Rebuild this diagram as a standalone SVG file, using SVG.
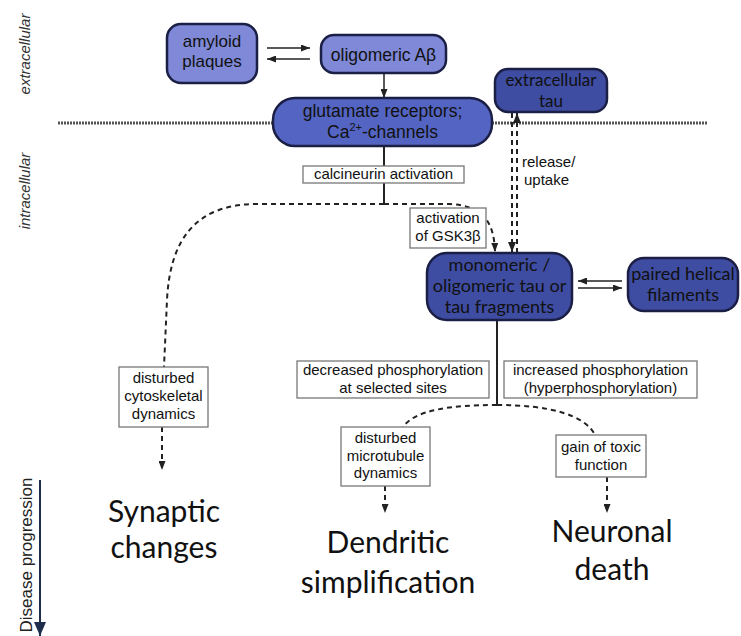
<svg xmlns="http://www.w3.org/2000/svg" width="741" height="636" viewBox="0 0 741 636">
<defs>
<style>
.bl{stroke:#1b1f45;stroke-width:2.5}
.b1{fill:#7f89d8}
.b2{fill:#5464c2}
.b3{fill:#3e4ca2}
.t{font-family:"Liberation Sans",Arial,sans-serif;font-size:15px;fill:#111;text-anchor:middle}
.tm{font-family:"Liberation Sans",Arial,sans-serif;font-size:17.5px;fill:#111;text-anchor:middle}
.tl{font-family:Lato,"Open Sans",sans-serif;font-size:17px;fill:#111;text-anchor:middle}
.big{font-family:Lato,"Open Sans",sans-serif;font-size:30px;fill:#111;text-anchor:middle}
.side{font-family:"Liberation Sans",Arial,sans-serif;font-size:15px;font-style:italic;fill:#333;text-anchor:middle}
.wb{fill:#fff;stroke:#777;stroke-width:1.3}
.sol{stroke:#222;stroke-width:2;fill:none}
.thin{stroke:#222;stroke-width:1.5;fill:none}
.dash{stroke:#222;stroke-width:2;fill:none;stroke-dasharray:5 4}
.mem{stroke:#555;stroke-width:3;stroke-dasharray:2 1;fill:none}
</style>
<marker id="ah" markerUnits="userSpaceOnUse" markerWidth="10" markerHeight="8" refX="10" refY="4" orient="auto">
<path d="M0,0 L10,4 L0,8 z" fill="#222"/>
</marker>
<marker id="ahs" markerUnits="userSpaceOnUse" markerWidth="9" markerHeight="7" refX="9" refY="3.5" orient="auto">
<path d="M0,0 L9,3.5 L0,7 z" fill="#222"/>
</marker>
<marker id="ahb" markerUnits="userSpaceOnUse" markerWidth="14" markerHeight="12" refX="14" refY="6" orient="auto">
<path d="M0,0 L14,6 L0,12 z" fill="#1f2d4d"/>
</marker>
</defs>
<rect width="741" height="636" fill="#fff"/>

<g id="membrane">
<line class="mem" x1="58" y1="123" x2="273" y2="123"/>
<line class="mem" x1="492" y1="123" x2="708" y2="123"/>
</g>

<g id="labels">
<text class="side" transform="translate(30,54) rotate(-90)">extracellular</text>
<text class="side" transform="translate(30,191) rotate(-90)">intracellular</text>
<text transform="translate(32,555) rotate(-90)" style="font-family:'Liberation Sans',Arial,sans-serif;font-size:17px;fill:#222;text-anchor:middle">Disease progression</text>
</g>

<g id="connectors">
<line class="thin" x1="267" y1="48" x2="310" y2="48" marker-end="url(#ahs)"/>
<line class="thin" x1="310" y1="59" x2="267" y2="59" marker-end="url(#ahs)"/>
<line class="thin" x1="384" y1="73" x2="384" y2="98" marker-end="url(#ahs)"/>
<line class="sol" x1="384" y1="146" x2="384" y2="166"/>
<line class="sol" x1="384" y1="183" x2="384" y2="204"/>
<path class="dash" d="M384,204 H255 C195,205 170,240 167,300 L164,367"/>
<path class="dash" d="M384,204 H450 C480,206 494,218 495,252" marker-end="url(#ahs)"/>
<line class="dash" x1="512" y1="113" x2="512" y2="252" marker-end="url(#ah)"/>
<line class="dash" x1="517" y1="253" x2="517" y2="113" marker-end="url(#ah)"/>
<line class="thin" x1="622" y1="281" x2="578" y2="281" marker-end="url(#ahs)"/>
<line class="thin" x1="578" y1="288" x2="622" y2="288" marker-end="url(#ahs)"/>
<line class="sol" x1="497" y1="320" x2="497" y2="405"/>
<path class="dash" d="M497,405 C450,405 415,410 403,427"/>
<path class="dash" d="M497,405 C550,405 585,415 595,435"/>
<line class="dash" x1="162" y1="427" x2="162" y2="470" marker-end="url(#ahs)"/>
<line class="dash" x1="385" y1="486" x2="385" y2="513" marker-end="url(#ahs)"/>
<line class="dash" x1="607" y1="477" x2="607" y2="513" marker-end="url(#ahs)"/>
<line x1="40" y1="480" x2="40" y2="636" stroke="#1f2d4d" stroke-width="2" marker-end="url(#ahb)"/>
</g>

<g id="amyloid">
<rect class="b1 bl" x="167" y="24" width="90" height="59" rx="14"/>
<text class="tm" x="212" y="47" style="font-size:17px">amyloid</text>
<text class="tm" x="212" y="67" style="font-size:17px">plaques</text>
</g>
<g id="oligoAb">
<rect class="b1 bl" x="321" y="35" width="125" height="38" rx="13"/>
<text class="tm" x="383.5" y="61">oligomeric Aβ</text>
</g>
<g id="glutamate">
<rect class="b2 bl" x="273" y="98" width="219" height="48" rx="22"/>
<text class="tm" x="382.5" y="117">glutamate receptors;</text>
<text class="tm" x="382.5" y="138">Ca<tspan dy="-7" style="font-size:11px">2+</tspan><tspan dy="7">-channels</tspan></text>
</g>
<g id="exttau">
<rect class="b3 bl" x="495" y="69" width="112" height="43" rx="13"/>
<text class="tl" x="551" y="86">extracellular</text>
<text class="tl" x="551" y="107">tau</text>
</g>
<g id="monomeric">
<rect class="b3 bl" x="427" y="253" width="145" height="67" rx="20"/>
<text class="tl" x="499.5" y="271" style="font-size:18px">monomeric /</text>
<text class="tl" x="499.5" y="292" style="font-size:18px">oligomeric tau or</text>
<text class="tl" x="499.5" y="313" style="font-size:18px">tau fragments</text>
</g>
<g id="phf">
<rect class="b3 bl" x="628" y="258" width="110" height="53" rx="16"/>
<text class="tl" x="683" y="280" style="font-size:18px">paired helical</text>
<text class="tl" x="683" y="301" style="font-size:18px">filaments</text>
</g>

<g id="calcineurin">
<rect class="wb" x="303" y="166" width="161" height="17"/>
<text class="t" x="383.5" y="179">calcineurin activation</text>
</g>
<g id="gsk">
<rect class="wb" x="410" y="208" width="76" height="40"/>
<text class="t" x="448" y="223">activation</text>
<text class="t" x="448" y="241">of GSK3β</text>
</g>
<g id="releaseLabel">
<text class="t" x="522" y="167" style="text-anchor:start">release/</text>
<text class="t" x="524" y="185" style="text-anchor:start">uptake</text>
</g>
<g id="cytoskeletal">
<rect class="wb" x="119" y="367" width="89" height="60"/>
<text class="t" x="163.5" y="383">disturbed</text>
<text class="t" x="163.5" y="401">cytoskeletal</text>
<text class="t" x="163.5" y="419">dynamics</text>
</g>
<g id="decreased">
<rect class="wb" x="297" y="361" width="192" height="37"/>
<text class="t" x="393" y="375">decreased phosphorylation</text>
<text class="t" x="393" y="393">at selected sites</text>
</g>
<g id="increased">
<rect class="wb" x="504" y="361" width="193" height="37"/>
<text class="t" x="600.5" y="375">increased phosphorylation</text>
<text class="t" x="600.5" y="393">(hyperphosphorylation)</text>
</g>
<g id="microtubule">
<rect class="wb" x="341" y="427" width="89" height="59"/>
<text class="t" x="385.5" y="443">disturbed</text>
<text class="t" x="385.5" y="461">microtubule</text>
<text class="t" x="385.5" y="478">dynamics</text>
</g>
<g id="gain">
<rect class="wb" x="556" y="435" width="90" height="42"/>
<text class="t" x="601" y="452">gain of toxic</text>
<text class="t" x="601" y="470">function</text>
</g>

<g id="outcomes">
<text class="big" x="164" y="522">Synaptic</text>
<text class="big" x="164" y="558">changes</text>
<text class="big" x="388" y="553">Dendritic</text>
<text class="big" x="388" y="593">simplification</text>
<text class="big" x="612" y="542">Neuronal</text>
<text class="big" x="612" y="580">death</text>
</g>
</svg>
